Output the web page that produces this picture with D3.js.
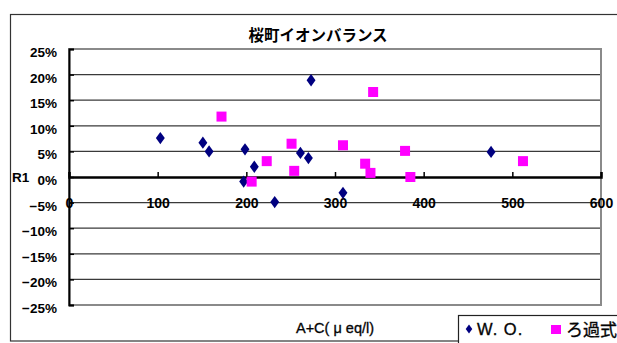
<!DOCTYPE html>
<html>
<head>
<meta charset="utf-8">
<script src="https://cdn.jsdelivr.net/npm/d3@7"></script>
<style>
  html, body { margin: 0; padding: 0; background: #fff; }
  svg { display: block; }
  text { font-family: "Liberation Sans", Arial, "Noto Sans CJK JP", sans-serif; fill: #000; }
  .jp { font-family: "Noto Sans CJK JP", "Liberation Sans", sans-serif; }
  .heavy { stroke: #111; stroke-width: 0.35px; }
</style>
</head>
<body>
<svg id="chart" width="617" height="343"></svg>
<script>
// W. O. series: A+C (μeq/l) and ion balance R1 (%)
const woX = [103, 151, 158, 197, 198.5, 209, 232, 261, 270, 273, 309, 476];
const woY = [7.6, 6.7, 5.0, -0.9, 5.4, 2.0, -4.9, 4.7, 3.7, 18.9, -3.1, 4.9];
// ろ過式 series
const roX = [172, 206, 223, 251, 254, 309, 334, 340, 343, 379, 385, 512];
const roY = [11.8, -0.9, 3.1, 6.5, 1.2, 6.2, 2.6, 0.8, 16.6, 5.1, 0.0, 3.1];

const xTicks = [0, 100, 200, 300, 400, 500, 600];
const yTicks = [25, 20, 15, 10, 5, 0, -5, -10, -15, -20, -25];

const title = "桜町イオンバランス";
const xTitle = "A+C( μ eq/l)";
const yTitle = "R1";
const seriesNames = ["W. O.", "ろ過式"];

const svg = d3.select("#chart");
const plot = { left: 69, right: 601, top: 49, bottom: 305 };

const x = d3.scaleLinear().domain([0, 600]).range([plot.left, plot.right]);
const y = d3.scaleLinear().domain([-25, 25]).range([plot.bottom, plot.top]);

// outer chart frame
svg.append("rect")
  .attr("x", 10.5).attr("y", 14.5)
  .attr("width", 640).attr("height", 326.5)
  .attr("fill", "none").attr("stroke", "#333").attr("stroke-width", 1.2);

// title
svg.append("text").attr("class", "jp")
  .attr("x", 318).attr("y", 41)
  .attr("text-anchor", "middle")
  .attr("font-size", 15.5).attr("font-weight", "bold")
  .text(title);

// horizontal gridlines
svg.append("g").selectAll("line")
  .data(yTicks.filter(v => v !== 0 && Math.abs(v) !== 25))
  .join("line")
  .attr("x1", plot.left).attr("x2", plot.right)
  .attr("y1", d => y(d)).attr("y2", d => y(d))
  .attr("stroke", "#3a3a3a").attr("stroke-width", 1.2);

// plot area border
svg.append("rect")
  .attr("x", plot.left).attr("y", plot.top)
  .attr("width", plot.right - plot.left).attr("height", plot.bottom - plot.top)
  .attr("fill", "none").attr("stroke", "#8a8a8a").attr("stroke-width", 2);

// y axis: labels on the left, short inward ticks
const yAxis = d3.axisLeft(y)
  .tickValues(yTicks)
  .tickSize(-5)
  .tickPadding(12)
  .tickFormat(d => (d < 0 ? "−" + Math.abs(d) : d) + "%");
const gy = svg.append("g").attr("transform", `translate(${plot.left},0)`).call(yAxis);
gy.select(".domain").attr("stroke", "#000").attr("stroke-width", 2);
gy.selectAll(".tick line").attr("stroke", "#000").attr("stroke-width", 1.5);
gy.selectAll(".tick text")
  .attr("font-size", 13.5).attr("font-weight", "bold")
  .attr("font-family", "Liberation Sans, Arial, sans-serif")
  .attr("dy", "0.55em").attr("fill", "#222");

// y axis title
svg.append("text")
  .attr("x", 12).attr("y", 182)
  .attr("font-size", 13.5).attr("font-weight", "bold").attr("fill", "#222")
  .text(yTitle);

// x axis at R1 = 0, ticks pointing up, labels below
const xAxis = d3.axisBottom(x)
  .tickValues(xTicks)
  .tickSize(-5)
  .tickPadding(21)
  .tickFormat(d3.format("d"));
const gx = svg.append("g").attr("transform", `translate(0,${y(0)})`).call(xAxis);
gx.select(".domain").attr("stroke", "#000").attr("stroke-width", 2.5);
gx.selectAll(".tick line").attr("stroke", "#000").attr("stroke-width", 1.5);
gx.selectAll(".tick text")
  .attr("font-size", 14).attr("font-weight", "bold")
  .attr("font-family", "Liberation Sans, Arial, sans-serif")
  .attr("fill", "#222");

// x axis title
svg.append("text").attr("class", "heavy")
  .attr("x", 335).attr("y", 333)
  .attr("text-anchor", "middle")
  .attr("font-size", 14.5).attr("fill", "#111")
  .text(xTitle);

// markers
const diamond = d3.symbol().type(d3.symbolDiamond).size(44);
svg.append("g").selectAll("path")
  .data(woX.map((v, i) => [v, woY[i]]))
  .join("path")
  .attr("d", diamond)
  .attr("transform", d => `translate(${x(d[0])},${y(d[1])}) scale(1.25,1)`)
  .attr("fill", "#000080");

const sq = 10;
svg.append("g").selectAll("rect")
  .data(roX.map((v, i) => [v, roY[i]]))
  .join("rect")
  .attr("x", d => x(d[0]) - sq / 2).attr("y", d => y(d[1]) - sq / 2)
  .attr("width", sq).attr("height", sq)
  .attr("fill", "#ff00ff");

// legend
const lg = svg.append("g");
lg.append("rect")
  .attr("x", 458.5).attr("y", 315.5)
  .attr("width", 200).attr("height", 40)
  .attr("fill", "#fff").attr("stroke", "#222").attr("stroke-width", 1.2);
lg.append("path")
  .attr("d", d3.symbol().type(d3.symbolDiamond).size(24))
  .attr("transform", "translate(469,329) scale(1.25,1)")
  .attr("fill", "#000080");
lg.append("text").attr("class", "heavy")
  .attr("x", 477).attr("y", 335)
  .attr("font-size", 16.5).attr("letter-spacing", 1)
  .attr("fill", "#111")
  .text(seriesNames[0]);
lg.append("rect")
  .attr("x", 551).attr("y", 325).attr("width", 10).attr("height", 9)
  .attr("fill", "#ff00ff");
lg.append("text").attr("class", "jp heavy")
  .attr("x", 566).attr("y", 336)
  .attr("font-size", 17).attr("fill", "#111")
  .text(seriesNames[1]);
</script>
</body>
</html>
